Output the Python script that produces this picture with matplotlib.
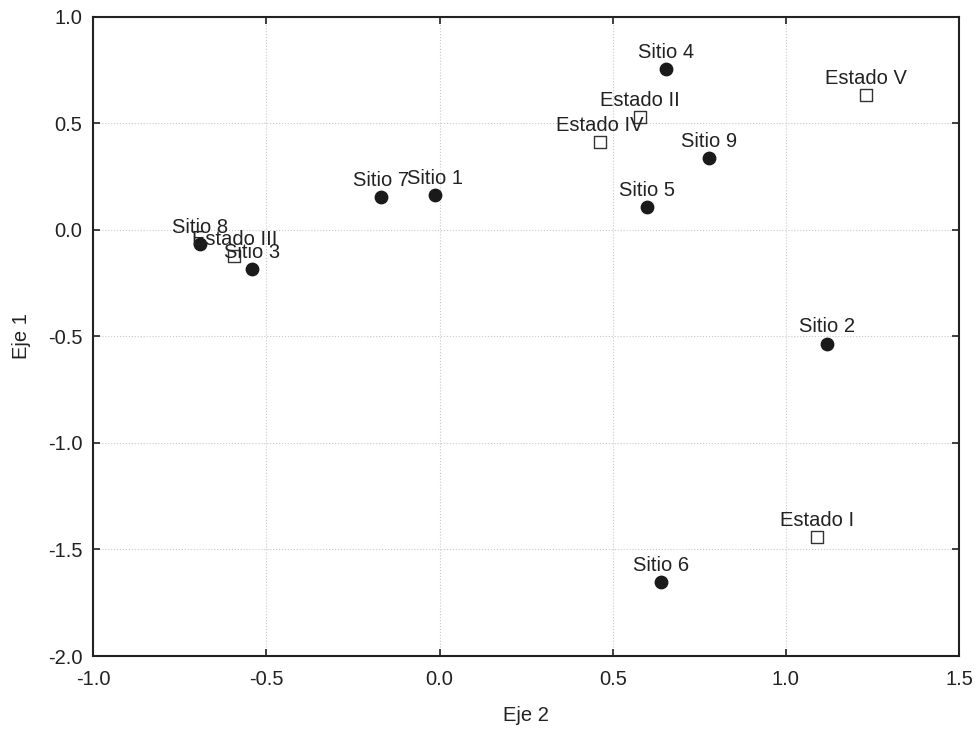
import matplotlib
matplotlib.use("Agg")
import matplotlib.pyplot as plt

plt.rcParams['font.family'] = ['Liberation Sans', 'DejaVu Sans']

# sitios (filled circles)
sitio_names = ["Sitio 1", "Sitio 2", "Sitio 3", "Sitio 4", "Sitio 5",
               "Sitio 6", "Sitio 7", "Sitio 8", "Sitio 9"]
sitio_x = [-0.014, 1.118, -0.541, 0.655, 0.599, 0.639, -0.168, -0.692, 0.777]
sitio_y = [0.162, -0.534, -0.185, 0.753, 0.106, -1.651, 0.155, -0.068, 0.335]

# estados (open squares)
estado_names = ["Estado I", "Estado II", "Estado III", "Estado IV", "Estado V"]
estado_x = [1.090, 0.578, -0.593, 0.462, 1.231]
estado_y = [-1.443, 0.528, -0.123, 0.411, 0.634]

xticks = [-1.0, -0.5, 0.0, 0.5, 1.0, 1.5]
yticks = [-2.0, -1.5, -1.0, -0.5, 0.0, 0.5, 1.0]

fig = plt.figure(figsize=(9.76, 7.29), dpi=100)
ax = fig.add_axes([0.0956, 0.1001, 0.887, 0.8770])

ax.scatter(sitio_x, sitio_y, s=80, marker='o', color='#1a1a1a', zorder=3)
ax.scatter(estado_x, estado_y, s=64, marker='s', facecolor='white',
           edgecolor='#333333', linewidth=1.0, zorder=3)

for name, x, y in zip(sitio_names, sitio_x, sitio_y):
    ax.annotate(name, (x, y), xytext=(0, 8), textcoords='offset points',
                ha='center', va='baseline', fontsize=14.5, color='#222222', zorder=4)
for name, x, y in zip(estado_names, estado_x, estado_y):
    ax.annotate(name, (x, y), xytext=(0, 8), textcoords='offset points',
                ha='center', va='baseline', fontsize=14.5, color='#222222', zorder=4)

ax.set_xlim(-1.0, 1.5)
ax.set_ylim(-2.0, 1.0)
ax.set_xticks(xticks)
ax.set_yticks(yticks)
ax.set_xticklabels([f"{v:.1f}" for v in xticks])
ax.set_yticklabels([f"{v:.1f}" for v in yticks])

ax.grid(True, linestyle=':', color='#c8c8c8', linewidth=0.8)
ax.set_axisbelow(True)
ax.tick_params(direction='in', length=5, width=1.2, color='#222222',
               labelsize=14.5, labelcolor='#222222', pad=8,
               top=True, right=True)
ax.tick_params(axis='x', pad=10)
for sp in ax.spines.values():
    sp.set_linewidth(1.5)
    sp.set_color('#222222')

ax.set_xlabel("Eje 2", fontsize=14.5, color='#222222', labelpad=12)
ax.set_ylabel("Eje 1", fontsize=14.5, color='#222222', labelpad=12)

fig.savefig("out.png", dpi=100)
